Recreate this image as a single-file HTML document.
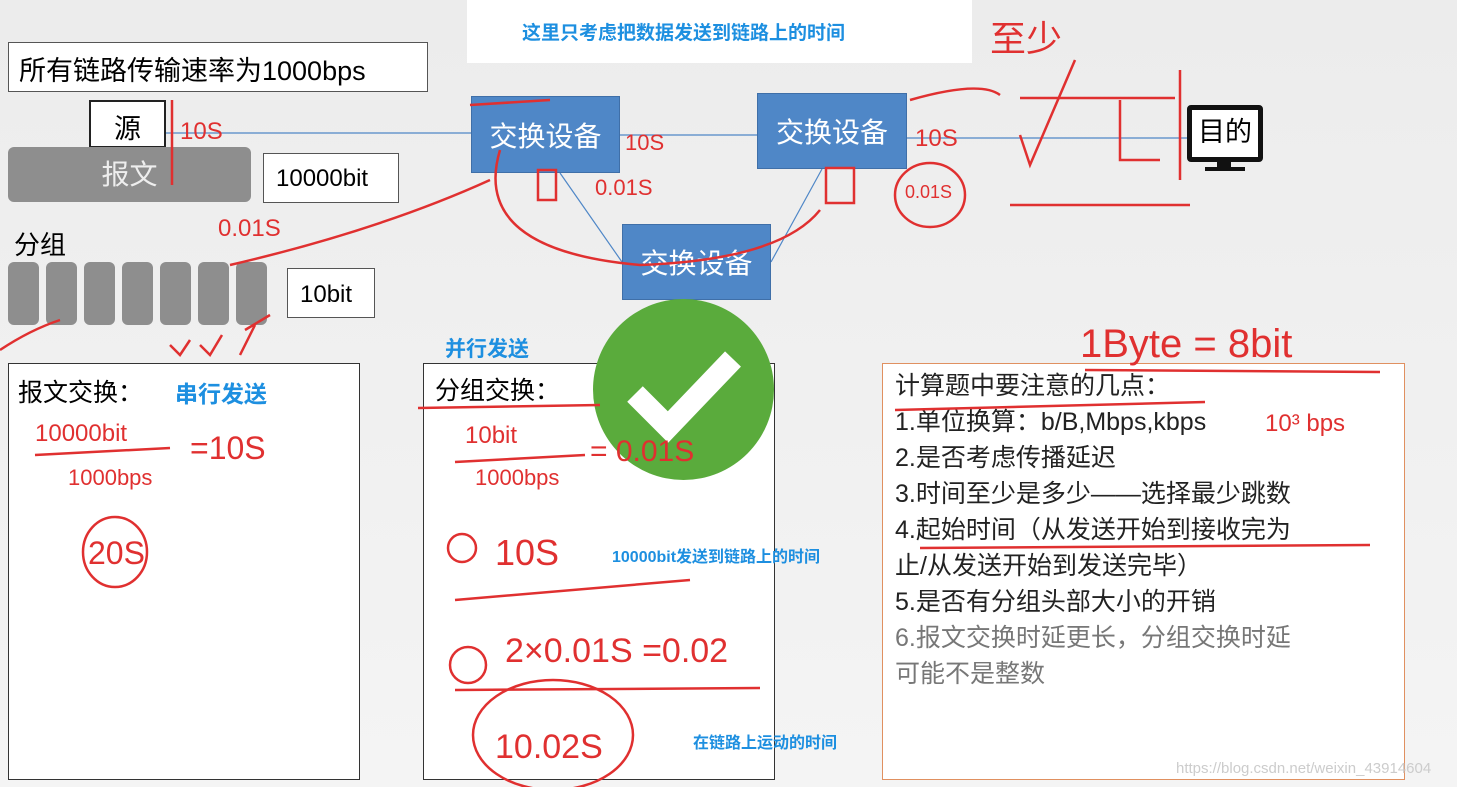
<!DOCTYPE html>
<html><head><meta charset="utf-8">
<style>
body{margin:0;width:1457px;height:787px;overflow:hidden;background:linear-gradient(#ececec,#f4f4f4);font-family:"Liberation Sans","Noto Sans CJK SC",sans-serif;position:relative}
.a{position:absolute;box-sizing:border-box}
.bx{border:1px solid #555;background:#fff}
.sw{background:#4f87c7;border:1px solid #3f6fa8;color:#fff;font-size:28px;display:flex;align-items:center;justify-content:center}
.g{background:#8e8e8e;border-radius:6px}
.r{color:#e03030;font-family:"Liberation Sans",sans-serif;position:absolute}
.bl{color:#1d8fe0;font-weight:bold;position:absolute}
</style></head><body>
<div class="a" style="left:467px;top:0;width:505px;height:63px;background:#fff"></div>
<div class="bl" style="left:522px;top:18px;font-size:19px">这里只考虑把数据发送到链路上的时间</div>
<div class="a bx" style="left:8px;top:42px;width:420px;height:50px;font-size:27px;padding:6px 0 0 10px">所有链路传输速率为1000bps</div>

<svg class="a" style="left:0;top:0" width="1457" height="787">
<g stroke="#4f87c7" stroke-width="1.2">
<line x1="166" y1="133" x2="471" y2="133"/><line x1="620" y1="135" x2="757" y2="135"/>
<line x1="907" y1="138" x2="1187" y2="138"/><line x1="560" y1="173" x2="622" y2="262"/><line x1="822" y1="169" x2="771" y2="262"/></g></svg>

<div class="a bx" style="left:89px;top:100px;width:77px;height:48px;font-size:27px;text-align:center;padding-top:5px;border:2px solid #222">源</div>
<div class="a g" style="left:8px;top:147px;width:243px;height:55px;color:#eee;font-size:28px;text-align:center;line-height:55px">报文</div>
<div class="a bx" style="left:263px;top:153px;width:136px;height:50px;font-size:24px;padding:11px 0 0 12px">10000bit</div>
<div class="a" style="left:14px;top:225px;font-size:26px">分组</div>
<div class="a g" style="left:8px;top:262px;width:31px;height:63px"></div>
<div class="a g" style="left:46px;top:262px;width:31px;height:63px"></div>
<div class="a g" style="left:84px;top:262px;width:31px;height:63px"></div>
<div class="a g" style="left:122px;top:262px;width:31px;height:63px"></div>
<div class="a g" style="left:160px;top:262px;width:31px;height:63px"></div>
<div class="a g" style="left:198px;top:262px;width:31px;height:63px"></div>
<div class="a g" style="left:236px;top:262px;width:31px;height:63px"></div>
<div class="a bx" style="left:287px;top:268px;width:88px;height:50px;font-size:24px;padding:12px 0 0 12px">10bit</div>

<div class="a sw" style="left:471px;top:96px;width:149px;height:77px">交换设备</div>
<div class="a sw" style="left:757px;top:93px;width:150px;height:76px">交换设备</div>
<div class="a sw" style="left:622px;top:224px;width:149px;height:76px">交换设备</div>

<div class="a" style="left:1187px;top:105px;width:76px;height:57px;border:5px solid #111;border-radius:4px;background:#fff;font-size:27px;text-align:center;line-height:44px">目的</div>
<div class="a" style="left:1217px;top:162px;width:14px;height:6px;background:#111"></div>
<div class="a" style="left:1205px;top:167px;width:40px;height:4px;background:#111"></div>

<div class="bl" style="left:445px;top:333px;font-size:21px">并行发送</div>
<div class="a bx" style="left:8px;top:363px;width:352px;height:417px;border-color:#333"></div>
<div class="a" style="left:18px;top:373px;font-size:25px">报文交换：</div>
<div class="bl" style="left:175px;top:375px;font-size:23px">串行发送</div>
<div class="a bx" style="left:423px;top:363px;width:352px;height:417px;border-color:#333"></div>
<div class="a" style="left:435px;top:371px;font-size:25px">分组交换：</div>

<div class="a" style="left:593px;top:299px;width:181px;height:181px;border-radius:50%;background:#5aab3c"></div>
<svg class="a" style="left:593px;top:299px" width="181" height="181"><path d="M42 95 L75 128 L140 60" stroke="#fff" stroke-width="22" fill="none"/></svg>

<div class="bl" style="left:612px;top:543px;font-size:16px">10000bit发送到链路上的时间</div>
<div class="bl" style="left:693px;top:729px;font-size:16px">在链路上运动的时间</div>

<div class="a" style="left:882px;top:363px;width:523px;height:417px;border:1px solid #e09060;background:#fff"></div>
<div class="a" style="left:895px;top:368px;font-size:25px;line-height:36px;color:#222">计算题中要注意的几点：<br>1.单位换算：b/B,Mbps,kbps<br>2.是否考虑传播延迟<br>3.时间至少是多少——选择最少跳数<br>4.起始时间（从发送开始到接收完为<br>止/从发送开始到发送完毕）<br>5.是否有分组头部大小的开销<br><span style="color:#777">6.报文交换时延更长，分组交换时延<br>可能不是整数</span></div>

<svg class="a" style="left:0;top:0" width="1457" height="787">
<g stroke="#e03030" stroke-width="2.5" fill="none">
<path d="M172 100 L172 185"/><path d="M230 265 Q380 230 490 180"/><path d="M470 105 L550 100"/>
<path d="M500 150 Q470 250 640 265 Q780 260 820 210"/><path d="M910 100 Q980 80 1000 95"/>
<path d="M1020 135 L1030 165 L1075 60"/><path d="M1010 205 L1190 205"/><path d="M1180 70 L1180 180"/>
<path d="M1120 100 L1120 160 L1160 160"/><path d="M1020 98 L1175 98"/>
<ellipse cx="930" cy="195" rx="35" ry="32"/><ellipse cx="115" cy="552" rx="32" ry="35"/>
<ellipse cx="553" cy="735" rx="80" ry="55"/><path d="M35 455 L170 448"/><path d="M455 462 L585 455"/>
<path d="M455 600 L690 580"/><path d="M455 690 L760 688"/><path d="M1085 370 L1380 372"/>
<path d="M418 408 L600 405"/><path d="M895 410 L1205 402"/><path d="M920 548 L1370 545"/>
<path d="M0 350 Q30 330 60 320"/><path d="M170 345 L180 355 L190 340 M200 345 L210 355 L222 335 M240 355 L255 325 M245 330 L270 315"/>
<circle cx="462" cy="548" r="14"/><circle cx="468" cy="665" r="18"/><rect x="538" y="170" width="18" height="30"/><rect x="826" y="168" width="28" height="35"/>
</g></svg>

<div class="r" style="left:180px;top:118px;font-size:24px">10S</div>
<div class="r" style="left:625px;top:130px;font-size:22px">10S</div>
<div class="r" style="left:915px;top:125px;font-size:24px">10S</div>
<div class="r" style="left:595px;top:175px;font-size:22px">0.01S</div>
<div class="r" style="left:905px;top:182px;font-size:18px">0.01S</div>
<div class="r" style="left:218px;top:215px;font-size:24px">0.01S</div>
<div class="r" style="left:990px;top:10px;font-size:36px">至少</div>
<div class="r" style="left:1080px;top:322px;font-size:40px">1Byte = 8bit</div>
<div class="r" style="left:1265px;top:410px;font-size:24px">10³ bps</div>
<div class="r" style="left:35px;top:420px;font-size:24px">10000bit</div>
<div class="r" style="left:68px;top:465px;font-size:22px">1000bps</div>
<div class="r" style="left:190px;top:430px;font-size:32px">=10S</div>
<div class="r" style="left:88px;top:535px;font-size:32px">20S</div>
<div class="r" style="left:465px;top:422px;font-size:24px">10bit</div>
<div class="r" style="left:475px;top:465px;font-size:22px">1000bps</div>
<div class="r" style="left:590px;top:435px;font-size:30px">= 0.01S</div>
<div class="r" style="left:495px;top:532px;font-size:36px">10S</div>
<div class="r" style="left:505px;top:632px;font-size:34px">2×0.01S =0.02</div>
<div class="r" style="left:495px;top:728px;font-size:34px">10.02S</div>
<div class="a" style="left:1176px;top:760px;font-size:15px;color:#ccc">https://blog.csdn.net/weixin_43914604</div>
</body></html>
